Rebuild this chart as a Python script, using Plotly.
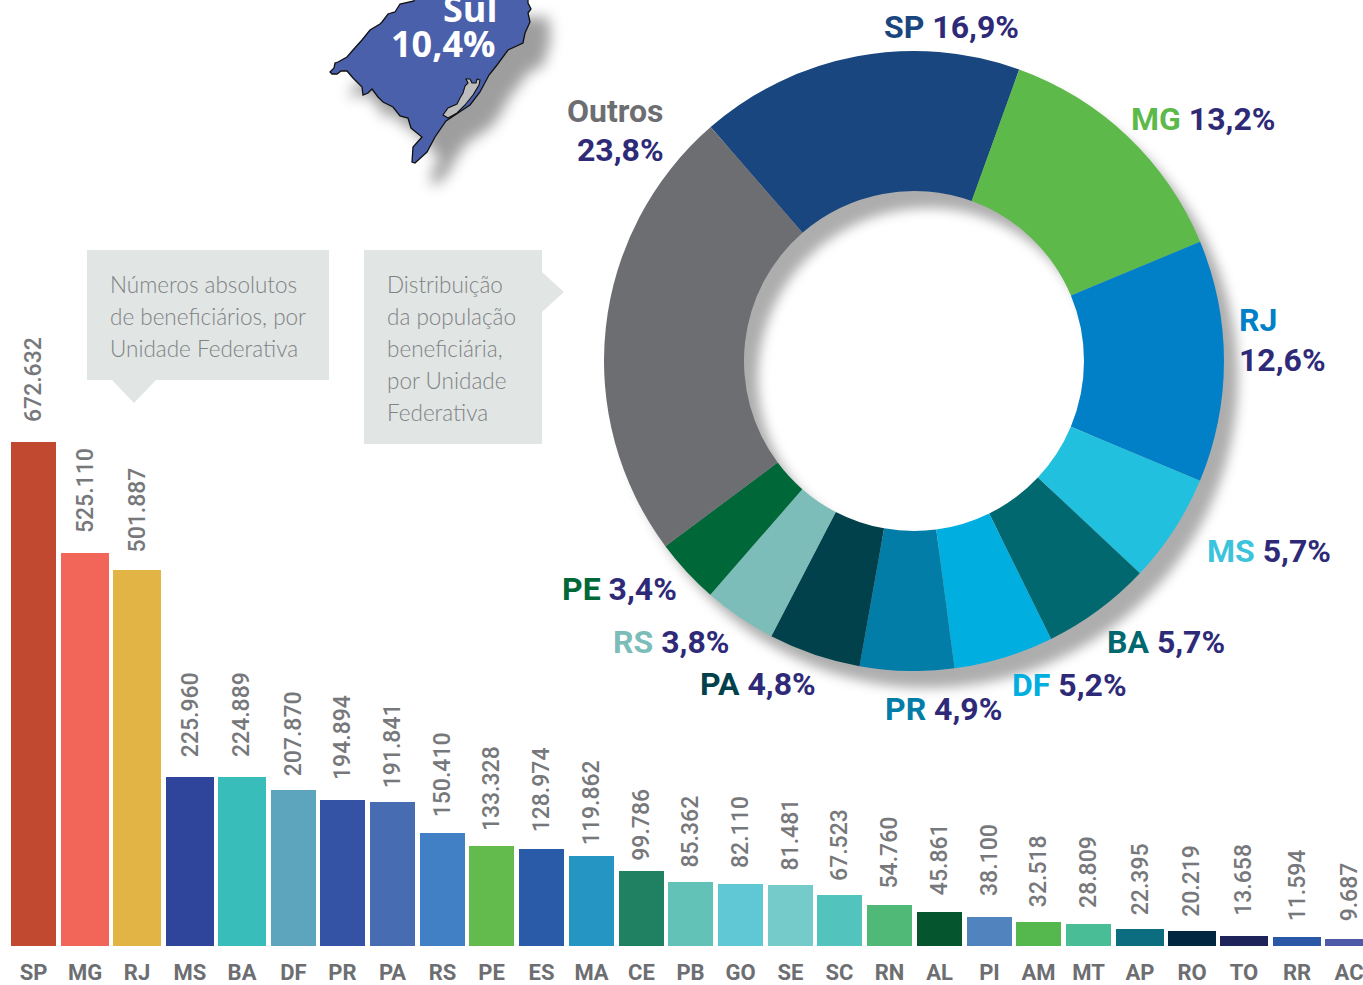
import plotly.graph_objects as go

W, H = 1363, 985

# ---------- data ----------
states = ["SP","MG","RJ","MS","BA","DF","PR","PA","RS","PE","ES","MA","CE","PB","GO","SE","SC","RN","AL","PI","AM","MT","AP","RO","TO","RR","AC"]
beneficiaries = [672632,525110,501887,225960,224889,207870,194894,191841,150410,133328,128974,119862,99786,85362,82110,81481,67523,54760,45861,38100,32518,28809,22395,20219,13658,11594,9687]
share_names = ["SP","MG","RJ","MS","BA","DF","PR","PA","RS","PE","Outros"]
share_values = [16.9,13.2,12.6,5.7,5.7,5.2,4.9,4.8,3.8,3.4,23.8]

# ---------- styles ----------
bar_colors = ["#c1492f","#f26659","#e2b446","#2f459b","#38bdbb","#5ca5bd","#3453a4","#476cb2","#4180c4","#62bb4c","#2a5ba8","#2596c4","#1f8162","#62c2b8","#5fc8d4","#74cbc9","#52c3bd","#50b977","#05562e","#5183bf","#54b84e","#48bd96","#0d6d80","#012640","#1e2359","#2b57a7","#4e5aa8"]
slice_colors = ["#19467f","#5cb94a","#0280c7","#21c0de","#01686f","#01aee0","#027da8","#00414c","#7cbdb9","#006838","#6d6e71"]
NAVY = "#2e2a78"
GREY = "#6d6e71"
BOLD = "Roboto"

# ---------- layout helpers (the page is laid out in pixels) ----------
PITCH, FIRST = 50.6, 33.5
slot_shift = [0,.9,2.3,4.7,6.1,7,5.4,4.8,4.2,2.6,2,1.4,.8,-.8,-1.4,-2,-3.6,-4.2,-4.8,-5.4,-7,-7.6,-6.7,-5.3,-3.9,-1.5,0]
bar_px = [45,48,48,48,48,45,45,45,45,45,45,45,45,45,45,45,45,45,45,45,45,45,48,48,48,48,48]
label_gap = [21,20,18,20,21,15,21,15,17,16,18,12,11,15,17,15,15,17,17,22,15,17,15,15,21,17,18]
BASE = 946
PX_PER_UNIT = 504 / 672632

def px(x): return x / W
def py(y): return 1 - y / H
def path(points):
    return "M" + "L".join(f"{px(x):.5f},{py(y):.5f}" for x, y in points) + "Z"

xpos = [i + s / PITCH for i, s in enumerate(slot_shift)]

fig = go.Figure()
fig.add_trace(go.Bar(
    x=xpos, y=beneficiaries, width=[w / PITCH for w in bar_px],
    marker=dict(color=bar_colors, line=dict(width=0)), hoverinfo="x+y",
))
fig.add_trace(go.Pie(
    labels=share_names, values=share_values, sort=False, direction="clockwise",
    rotation=-41, hole=170 / 310, textinfo="none", hoverinfo="label+percent",
    marker=dict(colors=slice_colors, line=dict(width=0)),
    domain=dict(x=[px(604), px(1224)], y=[py(671), py(51)]),
))

annotations = []
for x, v, gap in zip(xpos, beneficiaries, label_gap):
    annotations.append(dict(
        x=x, y=v, xref="x", yref="y", yshift=gap - 3, yanchor="bottom", xanchor="center",
        textangle=-90, showarrow=False, text=f"{v:,}".replace(",", "."),
        font=dict(family="Roboto", size=23, color="#77787b", weight=500),
    ))

def note(x, y, text, anchor="left", size=32, color=NAVY, family=BOLD, weight=700):
    annotations.append(dict(
        x=px(x), y=py(y), xref="paper", yref="paper", xanchor=anchor, yanchor="middle",
        showarrow=False, text=text, font=dict(family=family, size=size, color=color, weight=weight),
    ))

def pct(name, color, value):
    return f'<span style="color:{color}">{name}</span> {value}'

note(882, 27, pct("SP", "#19467f", "16,9%"))
note(1129, 119, pct("MG", "#5cb94a", "13,2%"))
note(1237, 320, "RJ", color="#0280c7")
note(1237, 360, "12,6%")
note(1205, 551, pct("MS", "#3cc4dc", "5,7%"))
note(1105, 642, pct("BA", "#01686f", "5,7%"))
note(1010, 685, pct("DF", "#01aee0", "5,2%"))
note(883, 709, pct("PR", "#027da8", "4,9%"))
note(698, 684, pct("PA", "#00414c", "4,8%"))
note(611, 642, pct("RS", "#7cbdb9", "3,8%"))
note(560, 589, pct("PE", "#006838", "3,4%"))
note(666, 111, "Outros", anchor="right", color=GREY)
note(666, 150, "23,8%", anchor="right")
note(470, 9, "Sul", anchor="center", color="white", family="Open Sans", size=36)
note(443, 43, "10,4%", anchor="center", color="white", family="Open Sans", size=36)

CALL = "#808285"
for y, t in zip([284, 316, 348], ["Números absolutos", "de beneficiários, por", "Unidade Federativa"]):
    note(108, y, t, size=22.5, color=CALL, family="Lato", weight=300)
for y, t in zip([284, 316, 348, 380, 412], ["Distribuição", "da população", "beneficiária,", "por Unidade", "Federativa"]):
    note(385, y, t, size=22.5, color=CALL, family="Lato", weight=300)

# decoration outlines
box_a = [(87,250),(329,250),(329,380),(156,380),(134,403),(112,380),(87,380)]
box_b = [(364,250),(542,250),(542,272),(564,292),(542,312),(542,444),(364,444)]
map_rs = [(414,-4),(414,1),(400,4),(395,12),(388,14),(382,22),(380,24),(370,30),(362,40),(353,50),(347,57),(338,62),(335,63),(334,68),(330,72),(332,74),(337,74),(341,71),(347,71),(353,78),(362,87),(363,95),(368,93),(372,89),(378,97),(383,102),(393,107),(400,116),(408,118),(411,128),(422,137),(413,147),(412,162),(415,163),(427,152),(435,137),(446,121),(455,115),(470,105),(480,92),(489,75),(497,65),(508,50),(523,43),(525,33),(530,22),(528,13),(531,9),(528,3),(528,-4)]
lagoon = [(443,115),(448,108),(457,104),(460,98),(463,93),(465,86),(468,83),(466,79),(470,79),(472,83),(476,83),(477,79),(480,80),(479,85),(473,95),(465,105),(457,113),(448,118)]
MAPC = "#4a60ab"
shapes = [
    dict(type="path", xref="paper", yref="paper", path=path(box_a), fillcolor="#e1e5e4", line=dict(width=0), layer="below"),
    dict(type="path", xref="paper", yref="paper", path=path(box_b), fillcolor="#e1e5e4", line=dict(width=0), layer="below"),
    dict(type="path", xref="paper", yref="paper", path=path(map_rs), fillcolor=MAPC, line=dict(width=1.3, color="#111"), layer="below"),
    dict(type="path", xref="paper", yref="paper", path=path(lagoon), fillcolor="#bdbdbd", line=dict(width=1.1, color="#111"), layer="above"),
]

fig.update_layout(
    width=W, height=H, margin=dict(l=0, r=0, t=0, b=0), autosize=False,
    paper_bgcolor="white", plot_bgcolor="white", showlegend=False, bargap=0,
    annotations=annotations, shapes=shapes,
    xaxis=dict(domain=[0, 1], range=[-FIRST / PITCH, (W - FIRST) / PITCH], showgrid=False, zeroline=False,
               showline=False, ticks="", tickmode="array", tickvals=xpos, ticktext=states, tickangle=0,
               ticklabelstandoff=11, automargin=False, ticklabeloverflow="allow",
               tickfont=dict(family=BOLD, size=22, color=GREY, weight=700)),
    yaxis=dict(domain=[(H - BASE) / H, 1], range=[0, BASE / PX_PER_UNIT], visible=False, automargin=False),
)

post = """
document.body.style.margin='0';document.body.style.overflow='hidden';
var p=document.querySelector('.pielayer');
if(p){p.style.filter='drop-shadow(14px 17px 6px rgba(0,0,0,.32))';}
document.querySelectorAll('.shapelayer path').forEach(function(e){
  if((e.style.fill||'').replace(/\\s/g,'')=='rgb(74,96,171)'){e.style.filter='drop-shadow(20px 22px 7px rgba(0,0,0,.38))';}
});
"""
fig.write_html("out.html", post_script=post, config=dict(displayModeBar=False))
